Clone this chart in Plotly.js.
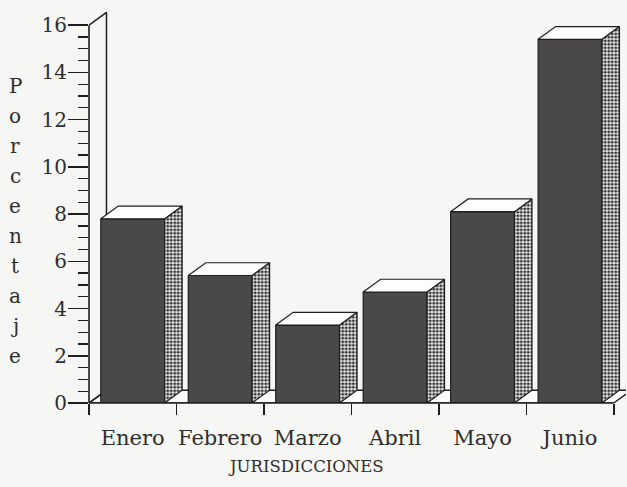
<!DOCTYPE html>
<html>
<head>
<meta charset="utf-8">
<script src="https://cdn.plot.ly/plotly-3.0.1.min.js"></script>
<style>html,body{margin:0;padding:0;background:#f6f6f4;}</style>
</head>
<body>
<div id="chart" style="width:627px;height:487px;"></div>
<script>
// ---- data ----
const categories = ['Enero', 'Febrero', 'Marzo', 'Abril', 'Mayo', 'Junio'];
const values = [7.8, 5.4, 3.3, 4.7, 8.1, 15.4];
const yTickVals = [0, 2, 4, 6, 8, 10, 12, 14, 16];
const yTitleLetters = ['P', 'o', 'r', 'c', 'e', 'n', 't', 'a', 'j', 'e'];
const xTitle = 'JURISDICCIONES';

// ---- geometry / style ----
const W = 627, H = 487;
const mL = 89, mR = 1, mT = 11, mB = 84;
const xRange = [-0.5, 5.64];
const yRange = [0, 16.6];
const barW = 0.73;     // front face width (category units)
const dx = 0.2;        // depth offset, x (category units)
const dy = 0.54;       // depth offset, y (value units)
const serif = 'DejaVu Serif, serif';
const ink = '#1e1e1e';
const textCol = '#2e2e2e';

const idx = categories.map((c, i) => i);
const yMax = yTickVals[yTickVals.length - 1];

// floor and back wall
const floorX = [-0.5, categories.length - 0.5, categories.length - 0.5 + dx, -0.5 + dx, -0.5];
const floorY = [0, 0, dy, dy, 0];
const wallX = [-0.5, -0.5 + dx, -0.5 + dx, -0.5];
const wallY = [0, dy, yMax + dy, yMax];

// side and top faces built from the values
const sideX = [], sideY = [], topX = [], topY = [];
idx.forEach(i => {
  const v = values[i];
  const r = i + barW / 2, l = i - barW / 2;
  sideX.push(r, r + dx, r + dx, r, r, null);
  sideY.push(0, dy, v + dy, v, 0, null);
  topX.push(l, r, r + dx, l + dx, l, null);
  topY.push(v, v, v + dy, v + dy, v, null);
});

const minorVals = [];
for (let k = 0; k <= yMax * 2; k++) minorVals.push(k / 2);

const traces = [
  { type: 'scatter', x: floorX, y: floorY, mode: 'lines', fill: 'toself',
    fillcolor: '#fbfbfa', line: { color: ink, width: 1.3 }, hoverinfo: 'skip', xaxis: 'x', yaxis: 'y' },
  { type: 'scatter', x: wallX, y: wallY, mode: 'lines',
    line: { color: ink, width: 1.5 }, hoverinfo: 'skip', xaxis: 'x', yaxis: 'y' },
  { type: 'bar', x: idx, y: values, width: barW, xaxis: 'x2', yaxis: 'y',
    marker: { color: '#4a4947', line: { color: ink, width: 1.2 } } },
  { type: 'scatter', x: sideX, y: sideY, mode: 'lines', fill: 'toself', xaxis: 'x2', yaxis: 'y',
    fillcolor: '#8e8e8e',
    fillpattern: { shape: '.', fgcolor: '#2a2a2a', bgcolor: '#e4e4e4', size: 3.5, solidity: 0.5 },
    line: { color: ink, width: 1.2 }, hoverinfo: 'skip' },
  { type: 'scatter', x: topX, y: topY, mode: 'lines', fill: 'toself', xaxis: 'x2', yaxis: 'y',
    fillcolor: '#fdfdfc', line: { color: ink, width: 1.2 }, hoverinfo: 'skip' }
];

const plotW = W - mL - mR, plotH = H - mT - mB;
const px2paperX = p => (p - mL) / plotW;
const px2paperY = p => (H - mB - p) / plotH;

const annotations = yTitleLetters.map((ch, k) => ({
  text: ch, xref: 'paper', yref: 'paper', x: px2paperX(15), y: px2paperY(86 + k * 30),
  xanchor: 'center', yanchor: 'middle', showarrow: false,
  font: { family: serif, size: 20, color: textCol }
}));
annotations.push({
  text: xTitle, xref: 'paper', yref: 'paper', x: px2paperX(306), y: px2paperY(466),
  xanchor: 'center', yanchor: 'middle', showarrow: false,
  font: { family: serif, size: 16.5, color: textCol }
});

const boundaries = [];
for (let k = 0; k <= categories.length; k++) boundaries.push(k - 0.5);

const layout = {
  width: W, height: H,
  margin: { l: mL, r: mR, t: mT, b: mB },
  paper_bgcolor: '#f6f6f4', plot_bgcolor: 'rgba(0,0,0,0)',
  showlegend: false,
  xaxis: {
    range: xRange, tickmode: 'array', tickvals: boundaries, ticktext: boundaries.map(() => ''),
    ticks: 'outside', ticklen: 11, tickwidth: 1.5, tickcolor: ink,
    showline: false, showgrid: false, zeroline: false, fixedrange: true
  },
  xaxis2: {
    overlaying: 'x', anchor: 'y', side: 'bottom', range: xRange,
    tickmode: 'array', tickvals: idx, ticktext: categories, ticks: '',
    ticklabelstandoff: 20,
    tickfont: { family: serif, size: 21, color: textCol },
    showline: false, showgrid: false, zeroline: false, fixedrange: true
  },
  yaxis: {
    range: yRange, tickmode: 'array', tickvals: yTickVals,
    ticks: 'outside', ticklen: 20, tickwidth: 1.5, tickcolor: ink,
    minor: { tickmode: 'array', tickvals: minorVals, ticks: 'outside', ticklen: 10, tickwidth: 1.3, tickcolor: ink },
    ticklabelstandoff: -3,
    tickfont: { family: serif, size: 20, color: textCol },
    showline: false, showgrid: false, zeroline: false, fixedrange: true
  },
  shapes: [
    { type: 'line', xref: 'paper', yref: 'paper', x0: 0, x1: 0, y0: 0, y1: yMax / yRange[1],
      line: { color: ink, width: 1.6 }, layer: 'above' },
    { type: 'line', xref: 'paper', yref: 'paper', x0: 0,
      x1: (categories.length) / (xRange[1] - xRange[0]), y0: 0, y1: 0,
      line: { color: ink, width: 1.6 }, layer: 'above' }
  ],
  annotations: annotations
};

Plotly.newPlot('chart', traces, layout, { displayModeBar: false, staticPlot: true });
</script>
</body>
</html>
